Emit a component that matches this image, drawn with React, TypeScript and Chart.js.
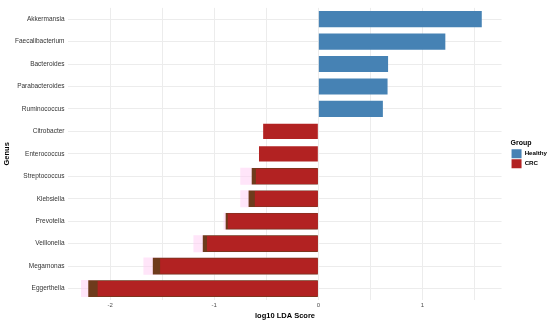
import React, { useEffect, useRef } from "react";
import { Chart, registerables } from "chart.js";

Chart.register(...registerables);

const genera = [
  "Akkermansia",
  "Faecalibacterium",
  "Bacteroides",
  "Parabacteroides",
  "Ruminococcus",
  "Citrobacter",
  "Enterococcus",
  "Streptococcus",
  "Klebsiella",
  "Prevotella",
  "Veillonella",
  "Megamonas",
  "Eggerthella",
];

const healthyScores = [1.57, 1.22, 0.67, 0.665, 0.62, null, null, null, null, null, null, null, null];
const crcScores = [null, null, null, null, null, -0.53, -0.57, -0.6, -0.61, -0.87, -1.07, -1.52, -2.12];
const crcOverlap = [null, null, null, null, null, null, null, -0.64, -0.67, -0.89, -1.11, -1.59, -2.21];
const crcShadow = [null, null, null, null, null, null, null, -0.75, -0.75, -0.91, -1.2, -1.68, -2.28];

const xTicks = [-2, -1, 0, 1];

const legendShift = {
  id: "legendShift",
  afterLayout(chart: any) {
    const l = chart.legend;
    if (l) {
      l.left += 9;
      l.right += 9;
      l.top -= 6;
      l.bottom -= 6;
    }
  },
};

export default function App() {
  const ref = useRef<HTMLCanvasElement | null>(null);

  useEffect(() => {
    if (!ref.current) return;
    const font = "'Liberation Sans', Arial, sans-serif";
    const chart = new Chart(ref.current, {
      type: "bar",
      data: {
        labels: genera,
        datasets: [
          {
            label: "Healthy",
            data: healthyScores,
            backgroundColor: "#4682b4",
            grouped: false,
            order: 0,
            barPercentage: 0.72,
            categoryPercentage: 1,
          },
          {
            label: "CRC",
            data: crcScores,
            backgroundColor: "#b22222",
            grouped: false,
            order: 0,
            barPercentage: 0.68,
            categoryPercentage: 1,
          },
          {
            label: "overlap",
            data: crcOverlap,
            backgroundColor: "#6e3b1c",
            grouped: false,
            order: 1,
            barPercentage: 0.74,
            categoryPercentage: 1,
          },
          {
            label: "shadow",
            data: crcShadow,
            backgroundColor: "rgba(255, 208, 244, 0.55)",
            grouped: false,
            order: 2,
            barPercentage: 0.76,
            categoryPercentage: 1,
          },
        ],
      },
      plugins: [legendShift],
      options: {
        indexAxis: "y",
        animation: false,
        responsive: true,
        maintainAspectRatio: false,
        layout: { padding: { left: 0, right: 2, top: 0, bottom: 0 } },
        plugins: {
          tooltip: { enabled: false },
          legend: {
            position: "right",
            align: "center",
            title: {
              display: true,
              text: "Group",
              position: "start",
              color: "#000",
              font: { family: font, size: 7, weight: "bold" },
              padding: { top: 0, bottom: 0, left: 0 },
            },
            labels: {
              boxWidth: 10,
              boxHeight: 9,
              padding: 1,
              color: "#000",
              font: { family: font, size: 6.2, weight: "bold" },
              filter: (item: any) => item.datasetIndex < 2,
            },
          },
        },
        scales: {
          x: {
            type: "linear",
            min: -2.4,
            max: 1.76,
            border: { display: false },
            grid: { color: "#ececec", lineWidth: 1, drawTicks: false },
            ticks: {
              stepSize: 0.5,
              includeBounds: false,
              autoSkip: false,
              maxRotation: 0,
              padding: 2,
              color: "#4d4d4d",
              font: { family: font, size: 6 },
              callback: (v: any) => (xTicks.includes(Number(v)) ? String(v) : ""),
            },
            title: {
              display: true,
              text: "log10 LDA Score",
              color: "#000",
              font: { family: font, size: 7.5, weight: "bold" },
              padding: { top: 0, bottom: 1 },
            },
          },
          y: {
            type: "category",
            offset: true,
            border: { display: false },
            grid: { color: "#ececec", offset: false, drawTicks: false },
            ticks: {
              autoSkip: false,
              padding: 4,
              color: "#333333",
              font: { family: font, size: 6.5 },
            },
            title: {
              display: true,
              text: "Genus",
              color: "#000",
              font: { family: font, size: 7.5, weight: "bold" },
              padding: { top: 2, bottom: 0 },
            },
          },
        },
      },
    });
    return () => chart.destroy();
  }, []);

  return (
    <div style={{ position: "absolute", left: 0, top: 0, width: 550, height: 321, background: "#fff" }}>
      <canvas ref={ref} />
    </div>
  );
}
